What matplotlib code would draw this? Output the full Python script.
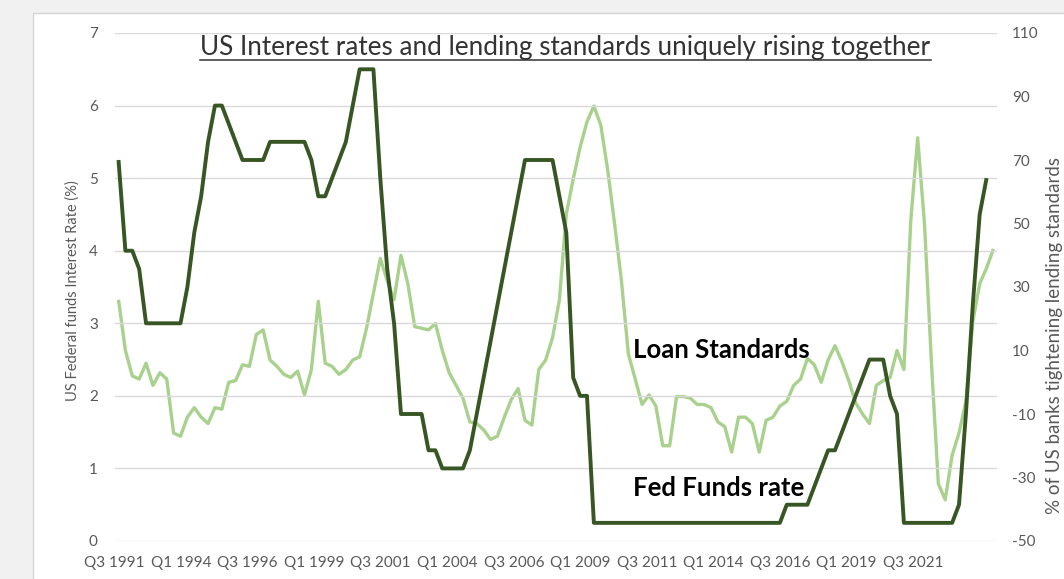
import matplotlib
matplotlib.use("Agg")
import matplotlib.pyplot as plt
from matplotlib.patches import Rectangle
from matplotlib.lines import Line2D

# Quarterly observations starting Q3 1991
fed_funds_rate = [
    5.25, 4.0, 4.0, 3.75, 3.0, 3.0, 3.0, 3.0, 3.0, 3.0,
    3.5, 4.25, 4.75, 5.5, 6.0, 6.0, 5.75, 5.5, 5.25, 5.25,
    5.25, 5.25, 5.5, 5.5, 5.5, 5.5, 5.5, 5.5, 5.25, 4.75,
    4.75, 5.0, 5.25, 5.5, 6.0, 6.5, 6.5, 6.5, 5.0, 3.75,
    3.0, 1.75, 1.75, 1.75, 1.75, 1.25, 1.25, 1.0, 1.0, 1.0,
    1.0, 1.25, 1.75, 2.25, 2.75, 3.25, 3.75, 4.25, 4.75, 5.25,
    5.25, 5.25, 5.25, 5.25, 4.75, 4.25, 2.25, 2.0, 2.0, 0.25,
    0.25, 0.25, 0.25, 0.25, 0.25, 0.25, 0.25, 0.25, 0.25, 0.25,
    0.25, 0.25, 0.25, 0.25, 0.25, 0.25, 0.25, 0.25, 0.25, 0.25,
    0.25, 0.25, 0.25, 0.25, 0.25, 0.25, 0.25, 0.5, 0.5, 0.5,
    0.5, 0.75, 1.0, 1.25, 1.25, 1.5, 1.75, 2.0, 2.25, 2.5,
    2.5, 2.5, 2.0, 1.75, 0.25, 0.25, 0.25, 0.25, 0.25, 0.25,
    0.25, 0.25, 0.5, 1.75, 3.25, 4.5, 5.0,
]

loan_standards = [
    26, 10, 2, 1, 6, -1, 3, 1, -16, -17,
    -11, -8, -11, -13, -8, -8.5, 0, 0.5, 5.5, 5,
    15, 16.5, 7, 5, 2.5, 1.5, 3.5, -4, 4, 25.5,
    6, 5, 2.5, 4, 7, 8, 17, 28, 39, 32,
    26, 40, 31, 17.5, 17, 16.5, 18.5, 10, 3, -1,
    -5, -12.5, -13, -15, -18, -17, -11, -5.5, -2, -12,
    -13.5, 4, 7, 14, 26, 53, 64, 74, 82, 87,
    81, 67, 50, 32, 9, 1, -7, -4, -7.5, -20,
    -20, -4.5, -4.5, -5, -7, -7, -8, -12.5, -14, -22,
    -11, -11, -13, -22, -12, -11, -7.5, -6, -1, 1,
    7.5, 5.5, 0, 7, 11.5, 6.5, 0.5, -6.5, -10, -13,
    -1, 0.5, 1.5, 10, 4, 51, 77, 49.5, 6, -32,
    -37, -23, -16, -6, 19, 31, 36, 42,
]

quarter_labels = ["Q3 1991", "Q1 1994", "Q3 1996", "Q1 1999", "Q3 2001",
                  "Q1 2004", "Q3 2006", "Q1 2009", "Q3 2011", "Q1 2014",
                  "Q3 2016", "Q1 2019", "Q3 2021"]

left_ticks = [0, 1, 2, 3, 4, 5, 6, 7]
right_ticks = [-50, -30, -10, 10, 30, 50, 70, 90, 110]

DARK = "#375623"
LIGHT = "#a9d18e"
GRID = "#d9d9d9"
TICK = "#595959"
FONT = "Lato"

W, H = 1064, 579
fig = plt.figure(figsize=(W / 100, H / 100), dpi=100, facecolor="#f1f1f1")

# white chart area with thin frame
fig.add_artist(Rectangle((33 / W, -0.1), 1.2, (H - 13) / H + 0.1,
                         transform=fig.transFigure, facecolor="white",
                         edgecolor="#d4d4d4", lw=1.0, zorder=0))

ax = fig.add_axes([114.5 / W, 38 / H, 882.4 / W, 508 / H])
ax.set_facecolor("none")
ax2 = ax.twinx()
ax.set_zorder(2)
ax2.set_zorder(1)

n_rate = len(fed_funds_rate)
n_std = len(loan_standards)

ax2.plot(range(n_std), loan_standards, color=LIGHT, lw=2.4,
         solid_joinstyle="round", solid_capstyle="butt")
ax.plot(range(n_rate), fed_funds_rate, color=DARK, lw=2.8,
        solid_joinstyle="round", solid_capstyle="butt")

ax.set_xlim(-0.5, n_std - 0.5)
ax.set_ylim(0, 7)
ax2.set_ylim(-50, 110)
ax.set_yticks(left_ticks)
ax2.set_yticks(right_ticks)
ax2.set_yticklabels([str(v) for v in right_ticks])
ax.yaxis.grid(True, color=GRID, lw=1.0)
ax.set_axisbelow(True)

# category labels spread evenly along the bottom
label_start = -0.58
label_step = 9.66
ax.set_xticks([label_start + k * label_step for k in range(len(quarter_labels))])
ax.set_xticklabels(quarter_labels)

for a in (ax, ax2):
    for s in a.spines.values():
        s.set_visible(False)
ax.tick_params(axis="x", length=0, pad=11, labelsize=11, colors=TICK)
ax.tick_params(axis="y", length=0, pad=12, labelsize=11, colors=TICK)
ax2.tick_params(axis="y", length=0, pad=11, labelsize=11, colors=TICK)
for lab in ax.get_xticklabels() + ax.get_yticklabels() + ax2.get_yticklabels():
    lab.set_fontfamily(FONT)

fig.text(73 / W, (H - 291) / H, "US Federal funds Interest Rate (%)",
         rotation=90, ha="center", va="center", fontsize=10.5,
         color=TICK, family=FONT)
fig.text(1063 / W, (H - 335) / H, "% of US banks tightening lending standards",
         rotation=90, ha="right", va="center", fontsize=13.5,
         color=TICK, family=FONT)

ax.text(74.7, 2.63, "Loan Standards", fontsize=18.5, fontweight="bold",
        family=FONT, color="black", ha="left", va="center", zorder=5)
ax.text(74.7, 0.73, "Fed Funds rate", fontsize=18.5, fontweight="bold",
        family=FONT, color="black", ha="left", va="center", zorder=5)

title = fig.text(565.5 / W, (H - 55) / H,
                 "US Interest rates and lending standards uniquely rising together",
                 ha="center", va="baseline", fontsize=18.8, color="#333333",
                 family=FONT)

fig.canvas.draw()
bb = title.get_window_extent(renderer=fig.canvas.get_renderer())
uy = (H - 59.5) / H
fig.add_artist(Line2D([bb.x0 / W, bb.x1 / W], [uy, uy], color="#333333",
                      lw=1.1, transform=fig.transFigure))

fig.savefig("out.png", dpi=100, facecolor=fig.get_facecolor())
